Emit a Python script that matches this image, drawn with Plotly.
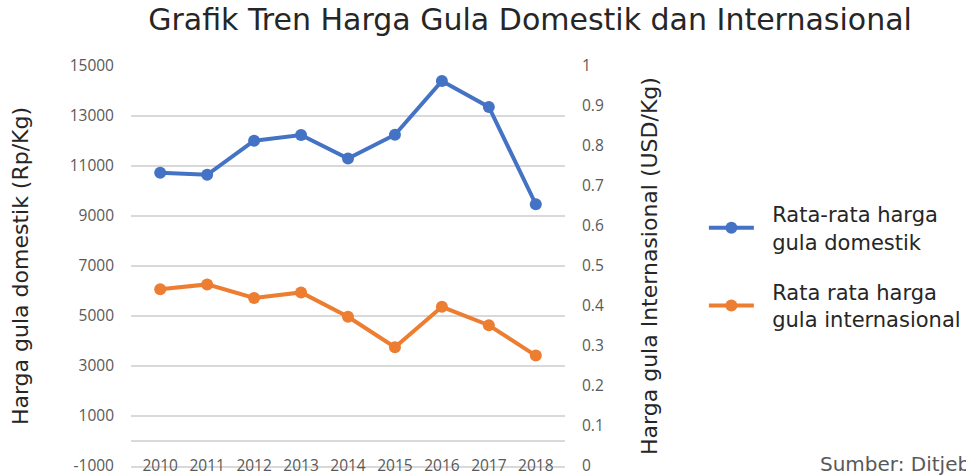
import plotly.graph_objects as go

# ── Data ──────────────────────────────────────────────────────────────────────
years = ["2010", "2011", "2012", "2013", "2014", "2015", "2016", "2017", "2018"]
harga_domestik = [10730, 10650, 12010, 12240, 11300, 12250, 14400, 13360, 9470]
harga_internasional = [0.442, 0.454, 0.420, 0.434, 0.373, 0.297, 0.398, 0.352, 0.276]

left_ticks = [-1000, 1000, 3000, 5000, 7000, 9000, 11000, 13000, 15000]
right_ticks = [0, 0.1, 0.2, 0.3, 0.4, 0.5, 0.6, 0.7, 0.8, 0.9, 1]

BLUE = "#4472C4"
ORANGE = "#ED7D31"
GRID = "#D9D9D9"
TICK_FONT = dict(family="Open Sans", size=15.5, color="#595959")
TEXT_FONT = "DejaVu Sans"
PAD = "&nbsp;&nbsp;"   # extra gap between legend symbol and text

fig = go.Figure()

fig.add_trace(go.Scatter(
    x=years, y=harga_domestik,
    name=f"{PAD}Rata-rata harga<br>{PAD}gula domestik",
    mode="lines+markers",
    line=dict(color=BLUE, width=4),
    marker=dict(size=12, color=BLUE),
    legendgroup="a",
))

fig.add_trace(go.Scatter(
    x=years, y=harga_internasional,
    name=f"{PAD}Rata rata harga<br>{PAD}gula internasional",
    mode="lines+markers",
    line=dict(color=ORANGE, width=4),
    marker=dict(size=12, color=ORANGE),
    yaxis="y2",
    legendgroup="b",
))

# source note, partly cut by the page edge like the original
fig.add_annotation(
    text="Sumber: Ditjebun",
    xref="paper", yref="paper", x=1.582, y=0.04,
    xanchor="left", yanchor="top", showarrow=False,
    font=dict(family=TEXT_FONT, size=20, color="#595959"),
)

fig.update_layout(
    width=966, height=476,
    margin=dict(l=131, r=401, t=66, b=10, autoexpand=False),
    paper_bgcolor="white",
    plot_bgcolor="white",
    title=dict(
        text="Grafik Tren Harga Gula Domestik dan Internasional",
        x=0.5487, xanchor="center", y=0.960, yanchor="middle",
        font=dict(family=TEXT_FONT, size=30, color="#262626"),
    ),
    xaxis=dict(
        showgrid=False, showline=True, linecolor=GRID, linewidth=1.5,
        ticks="", automargin=False, ticklabeloverflow="allow",
        tickfont=TICK_FONT, ticklabelstandoff=-15,
    ),
    yaxis=dict(
        range=[-1000, 15000], tickvals=left_ticks,
        ticktext=[str(v) for v in left_ticks],
        showgrid=True, gridcolor=GRID, gridwidth=1.5,
        zeroline=True, zerolinecolor=GRID, zerolinewidth=1.5,
        tickfont=TICK_FONT, ticks="", ticklabelstandoff=16,
        automargin=False, ticklabeloverflow="allow",
        title=dict(text="Harga gula domestik (Rp/Kg)", standoff=34,
                   font=dict(family=TEXT_FONT, size=22, color="#262626")),
    ),
    yaxis2=dict(
        range=[0, 1], tickvals=right_ticks,
        overlaying="y", side="right", showgrid=False, zeroline=False,
        tickfont=TICK_FONT, ticks="", ticklabelstandoff=16,
        automargin=False, ticklabeloverflow="allow",
        title=dict(text="Harga gula Internasional (USD/Kg)", standoff=38,
                   font=dict(family=TEXT_FONT, size=22, color="#262626")),
    ),
    legend=dict(
        x=1.320, y=0.68, xanchor="left", yanchor="top",
        font=dict(family=TEXT_FONT, size=21, color="#262626"),
        itemwidth=45, tracegroupgap=20,
        bgcolor="rgba(0,0,0,0)",
    ),
)

# drop the browser's default 8px body margin so the figure fills the window
fig.write_html("out.html",
               config={"displayModeBar": False},
               post_script="document.body.style.margin='0';"
                           "document.body.style.overflow='hidden';")
